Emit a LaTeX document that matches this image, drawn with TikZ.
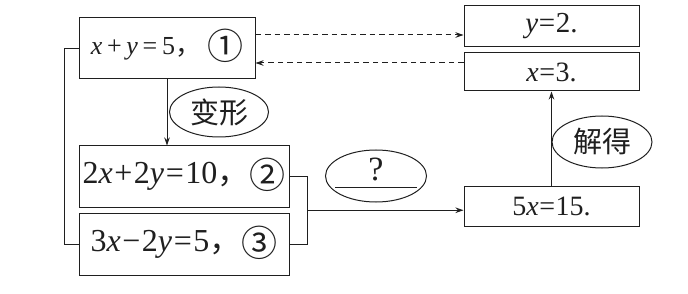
\documentclass[tikz,border=0pt]{standalone}
\usepackage{fontspec}
\setmainfont{Liberation Serif}
\newfontfamily\cjk{Noto Sans CJK SC}
\usetikzlibrary{arrows.meta,shapes.geometric,calc}
\newcommand{\opr}[2]{\hspace{#1em}#2\hspace{#1em}}
\newcommand{\cnum}[1]{\smash{\raisebox{-5pt}{\fontsize{36}{36}\selectfont\cjk #1}}}
\newcommand{\fwc}{{\cjk ，}}
\begin{document}
\begin{tikzpicture}[x=1pt,y=-1pt, line width=1pt, black!88,
  box/.style={draw, rectangle, inner sep=0pt},
  ell/.style={draw, ellipse, inner sep=0pt},
  arr/.style={-{Stealth[length=8pt,width=5.5pt]}},
  dsh/.style={dash pattern=on 5.5pt off 4pt}]
\useasboundingbox (0,0) rectangle (688,294);
% left column
\node[box, minimum width=176pt, minimum height=61pt, font=\fontsize{26}{26}\selectfont] (b1) at (167,48.5)
  {\textit{x}\opr{0.18}{+}\textit{y}\opr{0.18}{=}5\fwc\hspace{6pt}\cnum{①}};
\node[box, minimum width=210pt, minimum height=61pt, font=\fontsize{32}{32}\selectfont] (b2) at (184,176.5)
  {2\textit{x}\opr{0.05}{+}2\textit{y}\opr{0.05}{=}10\fwc\cnum{②}};
\node[box, minimum width=210pt, minimum height=62pt, font=\fontsize{32}{32}\selectfont] (b3) at (184,244)
  {3\textit{x}\opr{0.05}{−}2\textit{y}\opr{0.05}{=}5\fwc\cnum{③}};
% right column
\node[box, minimum width=175pt, minimum height=41pt, font=\fontsize{29}{29}\selectfont] (yb) at (551.5,26.5)
  {\textit{y}\opr{0.02}{=}2.};
\node[box, minimum width=175pt, minimum height=38pt, font=\fontsize{28}{28}\selectfont] (xb) at (551.5,72)
  {\textit{x}\opr{0.02}{=}3.};
\node[box, minimum width=175pt, minimum height=40pt, font=\fontsize{28}{28}\selectfont] (fb) at (551.5,206)
  {5\textit{x}\opr{0.02}{=}15.};
% ellipses
\node[ell, minimum width=99pt, minimum height=50pt, font=\fontsize{29}{29}\selectfont\cjk] (e1) at (219,112) {变形};
\node[ell, minimum width=100pt, minimum height=52pt, font=\fontsize{29}{29}\selectfont\cjk] (e2) at (602,142) {解得};
\node[ell, minimum width=101pt, minimum height=52pt] (e3) at (376,176) {};
\node[font=\fontsize{34}{34}\selectfont] (qm) at (376,169) {?};
\draw ([xshift=-41pt,yshift=-11pt]e3.center) -- ([xshift=41pt,yshift=-11pt]e3.center);
% connectors
\draw[arr] (b1.south) -- (b1.south |- b2.north);
\draw[arr,dsh] ([yshift=13.5pt]b1.east) -- ([yshift=13.5pt]b1.east -| yb.west);
\draw[arr,dsh] ([yshift=-14.5pt]b1.east -| xb.west) -- ([yshift=-14.5pt]b1.east);
\draw (b1.west) -- ++(-14pt,0) |- (b3.west);
\draw (b2.east) -- ++(18pt,0) coordinate (r1) |- (b3.east) coordinate[pos=0.5] (r2);
\coordinate (m) at ($(r1)!0.5!(r2)$);
\draw[arr] (m) -- (m -| fb.west);
\draw[arr] (fb.north) -- (fb.north |- xb.south);
\end{tikzpicture}
\end{document}
